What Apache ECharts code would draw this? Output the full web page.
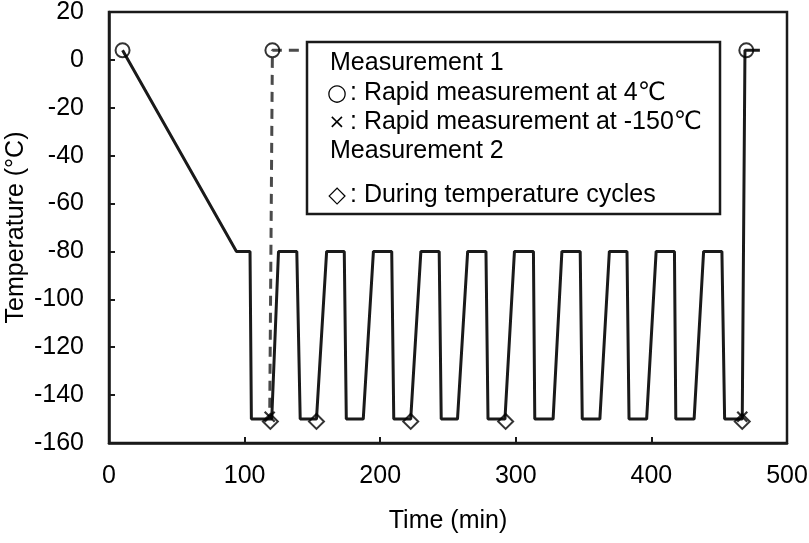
<!DOCTYPE html>
<html>
<head>
<meta charset="utf-8">
<script src="https://cdn.jsdelivr.net/npm/echarts@6/dist/echarts.min.js"></script>
<style>
  html, body { margin: 0; padding: 0; background: #fff; }
  #chart { width: 809px; height: 543px; }
</style>
</head>
<body>
<div id="chart"></div>
<script>
// temperature profile (time min, temp °C)
const profile = [
  [10, 4], [94, -80], [104, -80], [105, -150], [120, -150],
  [125, -80], [138.5, -80], [141, -150], [153, -150],
  [160.5, -80], [173.5, -80], [175, -150], [187.5, -150],
  [195, -80], [208.5, -80], [210, -150], [222.5, -150],
  [230, -80], [243.5, -80], [245, -150], [257, -150],
  [264.5, -80], [278, -80], [279.5, -150], [292, -150],
  [299, -80], [313, -80], [314, -150], [327.5, -150],
  [334, -80], [347.5, -80], [349, -150], [362, -150],
  [369, -80], [382, -80], [383.5, -150], [396.5, -150],
  [403.5, -80], [417, -80], [418, -150], [431.5, -150],
  [438.5, -80], [452, -80], [454, -150], [467, -150],
  [469, 4], [480, 4]
]
// measurement 1 side path (dashed)
const rapidPath = [[140, 4], [120.5, 4], [118.5, -150]]
// markers
const rapid4 = [[10, 4], [120.5, 4], [470, 4]]
const rapidCold = [[118.5, -149], [467, -149]]
const cycles = [[119, -151], [153, -151], [222.5, -151], [292.5, -151], [467, -151]]
// axis ticks
const xTicks = [0, 500, 100]
const yTicks = [-160, 20, 20]
// legend box text: [symbol, rest]
const legendLines = [
  ['', 'Measurement 1'],
  ['○', ': Rapid measurement at 4{deg|℃}'],
  ['×', ': Rapid measurement at -150{deg|℃}'],
  ['', 'Measurement 2'],
  ['◇', ': During temperature cycles']
]
const legendRows = [63, 93, 122, 151, 195]

const FONT = '"Liberation Sans", Arial, "DejaVu Sans", sans-serif'
const INK = '#1a1a1a'

let myChart = echarts.init(document.getElementById('chart'))

const markerStyle = { color: 'transparent', borderColor: '#000', borderWidth: 2 }

// legend text elements
let legendTexts = []
legendLines.forEach(function (row, i) {
  if (row[0]) {
    legendTexts.push({
      type: 'text', z: 101,
      style: {
        text: row[0], x: 337, y: legendRows[i] + 1,
        fontFamily: '"DejaVu Sans", sans-serif', fontSize: row[0] === '×' ? 20 : 23,
        fill: '#000', align: 'center', verticalAlign: 'middle'
      }
    })
  }
  legendTexts.push({
    type: 'text', z: 101,
    style: {
      text: row[1], x: row[0] ? 350 : 330, y: legendRows[i],
      fontFamily: FONT, fontSize: 25, fill: '#000', verticalAlign: 'middle',
      rich: {
        deg: { fontFamily: '"DejaVu Sans", sans-serif', fontSize: 25, fill: '#000' }
      }
    }
  })
})

myChart.setOption({
  animation: false,
  backgroundColor: '#fff',
  grid: {
    left: 109, right: 22, top: 12, bottom: 100,
    outerBoundsMode: 'none',
    containLabel: false,
    show: true, borderColor: INK, borderWidth: 2.5
  },
  xAxis: {
    type: 'value',
    min: xTicks[0], max: xTicks[1], interval: xTicks[2],
    name: 'Time (min)',
    nameLocation: 'middle',
    nameGap: 66,
    nameMoveOverlap: false,
    nameTextStyle: { fontFamily: FONT, fontSize: 25, color: '#000' },
    axisLine: { show: true, onZero: false, lineStyle: { color: INK, width: 2.5 } },
    axisTick: { show: true, inside: true, length: 6, lineStyle: { color: INK, width: 2 } },
    axisLabel: { margin: 21, fontFamily: FONT, fontSize: 25, color: '#000' },
    splitLine: { show: false }
  },
  yAxis: {
    type: 'value',
    min: yTicks[0], max: yTicks[1], interval: yTicks[2],
    name: 'Temperature (°C)',
    nameLocation: 'middle',
    nameRotate: 90,
    nameGap: 80,
    nameMoveOverlap: false,
    nameTextStyle: { fontFamily: FONT, fontSize: 25, color: '#000' },
    axisLine: { show: true, onZero: false, lineStyle: { color: INK, width: 2.5 } },
    axisTick: { show: true, inside: true, length: 6, lineStyle: { color: INK, width: 2 } },
    axisLabel: { margin: 25, fontFamily: FONT, fontSize: 25, color: '#000' },
    splitLine: { show: false }
  },
  series: [
    {
      name: 'profile',
      type: 'line',
      data: profile,
      symbol: 'none',
      lineStyle: { color: INK, width: 3 },
      z: 3
    },
    {
      name: 'rapid path',
      type: 'line',
      data: rapidPath,
      symbol: 'none',
      lineStyle: { color: '#4a4a4a', width: 3, type: [10, 7] },
      z: 2
    },
    {
      name: 'rapid 4',
      type: 'scatter',
      data: rapid4,
      symbol: 'circle',
      symbolSize: 14,
      itemStyle: markerStyle,
      z: 4
    },
    {
      name: 'rapid -150',
      type: 'scatter',
      data: rapidCold,
      symbol: 'path://M0,0L10,10M10,0L0,10',
      symbolSize: 10,
      itemStyle: { color: 'none', borderColor: '#000', borderWidth: 2.2 },
      z: 5
    },
    {
      name: 'cycles',
      type: 'scatter',
      data: cycles,
      symbol: 'diamond',
      symbolSize: [15, 15],
      itemStyle: markerStyle,
      z: 4
    }
  ],
  graphic: [
    {
      type: 'rect',
      z: 100,
      shape: { x: 307, y: 42, width: 413, height: 172 },
      style: { fill: '#fff', stroke: INK, lineWidth: 2.5 }
    }
  ].concat(legendTexts)
})
</script>
</body>
</html>
